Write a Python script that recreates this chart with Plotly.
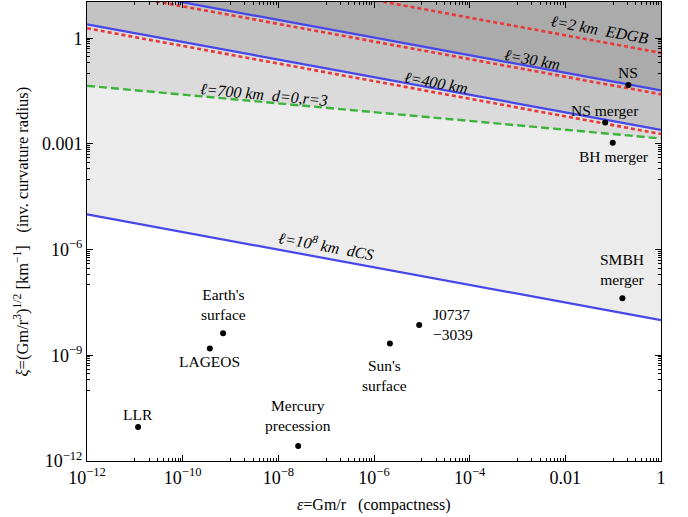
import numpy as np
import plotly.graph_objects as go

FONT = "Liberation Serif"

# ---------------- data ----------------
# constant-length lines: xi values at eps = 1e-12 and eps = 1
eps_ends = [1e-12, 1.0]
blue_names = ["l30", "l400", "l1e8"]
blue_xi_left = [33.3, 2.5, 1.0e-5]
blue_xi_right = [0.0333, 2.5e-3, 1.0e-8]
red_names = ["l2", "l30", "l400"]
red_xi_left = [385.0, 25.6, 1.92]
red_xi_right = [0.385, 0.0256, 1.92e-3]
green_xi_left = [0.0447]
green_xi_right = [1.43e-3]

# systems
pt_names = ["LLR", "Earth's<br>surface", "LAGEOS", "Mercury<br>precession", "Sun's<br>surface",
            "J0737<br>\u22123039", "SMBH<br>merger", "NS", "NS merger", "BH merger"]
pt_eps = [1.17e-11, 7.0e-10, 3.7e-10, 2.6e-8, 2.15e-6, 8.8e-6, 0.156, 0.208, 0.068, 0.098]
pt_xi = [9.3e-12, 4.2e-9, 1.56e-9, 2.67e-12, 2.16e-9, 7.2e-9, 4.2e-8, 0.047, 4.1e-3, 1.08e-3]
# label offsets (px) relative to the dot, and anchor
pt_dx = [0, 0, 0, 0, -5, 12, 0, 0, 0, 1]
pt_dy = [12, 29, -13, 30, -32, 1, 29, 13, 12, -14]
pt_anchor = ["center"] * 5 + ["left"] + ["center"] * 4

# line labels: (text, eps, xi, angle)
lab_text = ["<i>\u2113=700 km  d=0,r=3</i>", "<i>\u2113=400 km</i>", "<i>\u2113=30 km</i>",
            "<i>\u2113=2 km  EDGB</i>", "<i>\u2113=10<sup>8</sup> km  dCS</i>"]
lab_eps = [10**-8.30, 10**-4.705, 10**-2.697, 10**-1.295, 10**-7.006]
lab_xi = [10**-1.585, 10**-1.247, 10**-0.616, 10**0.236, 10**-5.875]
lab_angle = [5.3, 10.4, 10.4, 10.4, 10.4]

x_tickvals = [1e-12, 1e-10, 1e-8, 1e-6, 1e-4, 1e-2, 1]
x_ticktext = ["10<sup>\u221212</sup>", "10<sup>\u221210</sup>", "10<sup>\u22128</sup>",
              "10<sup>\u22126</sup>", "10<sup>\u22124</sup>", "0.01", "1"]
y_tickvals = [1e-12, 1e-9, 1e-6, 1e-3, 1]
y_ticktext = ["10<sup>\u221212</sup>", "10<sup>\u22129</sup>", "10<sup>\u22126</sup>", "0.001", "1"]

FILL_TOP = 1e6

fig = go.Figure()

def fill_above(xl, xr, color):
    fig.add_trace(go.Scatter(
        x=[eps_ends[0], eps_ends[1], eps_ends[1], eps_ends[0], eps_ends[0]],
        y=[xl, xr, FILL_TOP, FILL_TOP, xl],
        mode="lines", fill="toself", fillcolor=color, line=dict(width=0),
        hoverinfo="skip", showlegend=False))

# shaded regions (light to dark)
fill_above(blue_xi_left[2], blue_xi_right[2], "#ececec")
fill_above(green_xi_left[0], green_xi_right[0], "#dbdbdb")
fill_above(blue_xi_left[1], blue_xi_right[1], "#c3c3c3")
fill_above(blue_xi_left[0], blue_xi_right[0], "#ababab")

BLUE = "rgb(70,70,235)"
RED = "rgb(235,55,55)"
GREEN = "rgb(60,180,60)"

for xl, xr in zip(red_xi_left, red_xi_right):
    fig.add_trace(go.Scatter(x=eps_ends, y=[xl, xr], mode="lines",
                             line=dict(color=RED, width=2.6, dash="4px,3px"),
                             hoverinfo="skip", showlegend=False))
for xl, xr in zip(blue_xi_left, blue_xi_right):
    fig.add_trace(go.Scatter(x=eps_ends, y=[xl, xr], mode="lines",
                             line=dict(color=BLUE, width=2.2),
                             hoverinfo="skip", showlegend=False))
for xl, xr in zip(green_xi_left, green_xi_right):
    fig.add_trace(go.Scatter(x=eps_ends, y=[xl, xr], mode="lines",
                             line=dict(color=GREEN, width=2.4, dash="8px,4px"),
                             hoverinfo="skip", showlegend=False))

fig.add_trace(go.Scatter(x=pt_eps, y=pt_xi, mode="markers",
                         marker=dict(color="black", size=6),
                         showlegend=False))

ann = []
for t, e, x, dx, dy, a in zip(pt_names, pt_eps, pt_xi, pt_dx, pt_dy, pt_anchor):
    ann.append(dict(x=np.log10(e), y=np.log10(x), xref="x", yref="y", text=t,
                    showarrow=False, xshift=dx, yshift=dy, xanchor=a, yanchor="middle",
                    align="center" if a == "center" else "left",
                    font=dict(family=FONT, size=15.5, color="black")))
for t, e, x, ang in zip(lab_text, lab_eps, lab_xi, lab_angle):
    ann.append(dict(x=np.log10(e), y=np.log10(x), xref="x", yref="y", text=t,
                    showarrow=False, textangle=ang, xanchor="center", yanchor="middle",
                    font=dict(family=FONT, size=16, color="black")))
# axis titles
ann.append(dict(x=0.5, y=0, xref="paper", yref="paper", yshift=-44, showarrow=False,
                text="<i>\u03b5</i>=Gm/r   (compactness)", xanchor="center", yanchor="middle",
                font=dict(family=FONT, size=16, color="black")))
ann.append(dict(x=0, y=0.5, xref="paper", yref="paper", xshift=-65, showarrow=False,
                textangle=-90,
                text="<i>\u03be</i>=(Gm/r<sup>3</sup>)<sup>1/2</sup> [km<sup>\u22121</sup>]   (inv. curvature radius)",
                xanchor="center", yanchor="middle",
                font=dict(family=FONT, size=16.5, color="black")))

def minor_vals(majors):
    vals = []
    for m in majors:
        e = int(round(np.log10(m))) - 1
        for k in range(1, 10):
            vals.append(k * 10.0**e)
    return vals

axis_common = dict(type="log", showgrid=False, zeroline=False, showline=True,
                   linecolor="black", linewidth=1, mirror="ticks", ticks="inside",
                   ticklen=6, tickcolor="black",
                   tickfont=dict(family=FONT, size=18, color="black"))

fig.update_xaxes(range=[-12, 0], tickmode="array", tickvals=x_tickvals, ticktext=x_ticktext,
                 minor=dict(tickmode="array", tickvals=minor_vals(x_tickvals), ticks="inside",
                            ticklen=3, tickcolor="black", showgrid=False),
                 **axis_common)
fig.update_yaxes(range=[-12, 1.03], tickmode="array", tickvals=y_tickvals, ticktext=y_ticktext,
                 minor=dict(tickmode="array", tickvals=minor_vals(y_tickvals), ticks="inside",
                            ticklen=3, tickcolor="black", showgrid=False),
                 **axis_common)

fig.update_layout(width=688, height=517, margin=dict(l=87, r=27, t=2, b=56, autoexpand=False),
                  plot_bgcolor="white", paper_bgcolor="white",
                  font=dict(family=FONT, size=15, color="black"),
                  annotations=ann, showlegend=False)

fig.write_html("out.html", config={"displayModeBar": False},
               post_script="document.body.style.margin='0px';document.body.style.padding='0px';")
